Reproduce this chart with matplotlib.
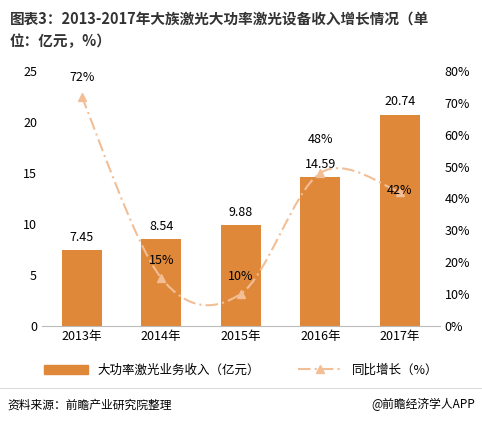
import matplotlib.pyplot as plt
import numpy as np
from matplotlib.path import Path
from matplotlib.patches import PathPatch
from matplotlib.lines import Line2D
from matplotlib.patches import Patch

plt.rcParams['font.family'] = ['Noto Sans CJK SC', 'DejaVu Sans']

years = ['2013年', '2014年', '2015年', '2016年', '2017年']
revenue = [7.45, 8.54, 9.88, 14.59, 20.74]
growth = [72, 15, 10, 48, 42]

bar_c = '#E0883A'
line_c = '#F2BE96'

fig = plt.figure(figsize=(4.82, 4.24), dpi=100)
ax = fig.add_axes([0.087, 0.232, 0.825, 0.6])
x = np.arange(len(years))
ax.bar(x, revenue, width=0.5, color=bar_c, zorder=2)
for xi, v in zip(x, revenue):
    ax.text(xi, v + 0.6, f'{v:.2f}', ha='center', va='bottom', fontsize=9)
ax.set_ylim(0, 25)
ax.set_yticks(range(0, 26, 5))
ax.set_xlim(-0.5, 4.5)
ax.set_xticks(x)
ax.set_xticklabels(years, fontsize=9)
ax.tick_params(axis='y', labelsize=9, length=0)
ax.tick_params(axis='x', length=0)
for s in ['top', 'right', 'left']:
    ax.spines[s].set_visible(False)
ax.spines['bottom'].set_color('#bbbbbb')

ax2 = ax.twinx()
ax2.set_ylim(0, 80)
ax2.set_yticks(range(0, 81, 10))
ax2.set_yticklabels([f'{t}%' for t in range(0, 81, 10)], fontsize=9)
ax2.tick_params(axis='y', length=0)
for s in ['top', 'right', 'left', 'bottom']:
    ax2.spines[s].set_visible(False)

# smooth curve (Catmull-Rom -> cubic Bezier)
pts = np.column_stack([x, growth]).astype(float)
verts = [pts[0]]
codes = [Path.MOVETO]
for i in range(len(pts) - 1):
    p0 = pts[max(i - 1, 0)]
    p1 = pts[i]
    p2 = pts[i + 1]
    p3 = pts[min(i + 2, len(pts) - 1)]
    c1 = p1 + (p2 - p0) / 6
    c2 = p2 - (p3 - p1) / 6
    verts += [c1, c2, p2]
    codes += [Path.CURVE4] * 3
ax2.add_patch(PathPatch(Path(verts, codes), fill=False, edgecolor=line_c,
                        lw=1.5, linestyle=(0, (6, 2, 1, 2)), zorder=3))
ax2.plot(x, growth, linestyle='none', marker='^', color=line_c, markersize=6, zorder=4)
offsets = [4, 3.5, 3.5, 8.5, -1.5]
for xi, g, off in zip(x, growth, offsets):
    ax2.text(xi, g + off, f'{g}%', ha='center', va='bottom', fontsize=9, zorder=5)

fig.text(0.02, 0.975, '图表3：2013-2017年大族激光大功率激光设备收入增长情况（单\n位：亿元，%）',
         ha='left', va='top', fontsize=10.5, fontweight='bold', color='#333333', linespacing=1.5)

handles = [Patch(color=bar_c), Line2D([], [], color=line_c, marker='^', linestyle=(0, (6, 2, 1, 2)))]
fig.legend(handles, ['大功率激光业务收入（亿元）', '同比增长（%）'], loc='center',
           bbox_to_anchor=(0.5, 0.127), ncol=2, frameon=False, fontsize=9,
           handlelength=3.5, columnspacing=3)

fig.add_artist(Line2D([0, 1], [0.085, 0.085], color='#dddddd', lw=0.8))
fig.text(0.015, 0.045, '资料来源：前瞻产业研究院整理', fontsize=8.5, style='italic', va='center')
fig.text(0.985, 0.045, '@前瞻经济学人APP', fontsize=8.5, ha='right', va='center')

fig.savefig('out.png', dpi=100)
